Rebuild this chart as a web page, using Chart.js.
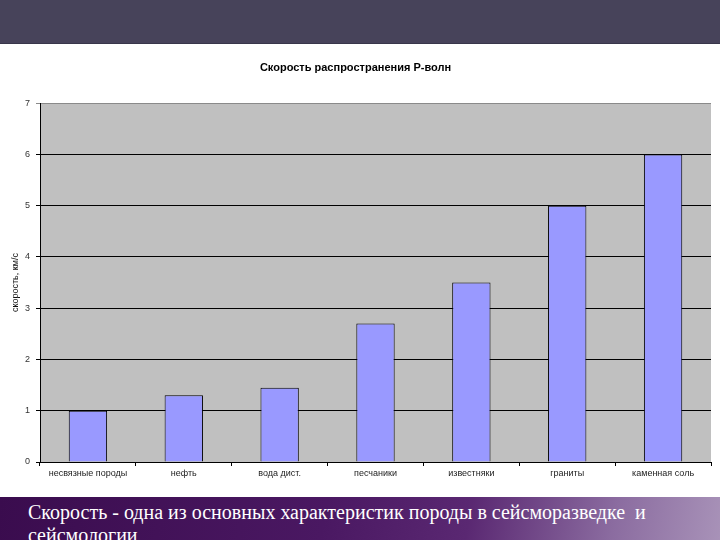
<!DOCTYPE html>
<html lang="ru">
<head>
  <meta charset="UTF-8">
  <title>Скорость распространения P-волн</title>
  <style>
    body {
      margin: 0;
      width: 720px;
      height: 540px;
      overflow: hidden;
      background: #ffffff;
      font-family: "Liberation Sans", Arial, sans-serif;
    }
    #topBand {
      height: 43px;
      background: #47435a;
      border-bottom: 1px solid #38364a;
    }
    #chartBox {
      position: absolute;
      top: 44px;
      left: 0;
      width: 720px;
      height: 453px;
    }
    #bottomBand {
      position: absolute;
      top: 497px;
      left: 0;
      width: 720px;
      height: 43px;
      overflow: hidden;
      background: linear-gradient(100deg, #3a0c4e 0%, #4a1862 45%, #5a2872 65%, #8b6ca0 85%, #a892b8 100%);
    }
    #caption {
      position: absolute;
      left: 28px;
      top: 4px;
      width: 680px;
      color: #ffffff;
      font-family: "Liberation Serif", "Times New Roman", serif;
      font-size: 20px;
      line-height: 23px;
    }
  </style>
</head>
<body>
  <div id="topBand"></div>
  <div id="chartBox">
    <canvas id="myChart" width="720" height="453"></canvas>
  </div>
  <div id="bottomBand">
    <div id="caption">Скорость - одна из основных характеристик породы в сейсморазведке&nbsp; и сейсмологии</div>
  </div>

  <script src="https://cdn.jsdelivr.net/npm/chart.js"></script>
  <script>
    // данные с картинки
    const rocks = ['несвязные породы', 'нефть', 'вода дист.', 'песчаники', 'известняки', 'граниты', 'каменная соль'];
    const speeds = [1.0, 1.3, 1.45, 2.7, 3.5, 5.0, 6.0];
    const yTicks = [0, 1, 2, 3, 4, 5, 6, 7];

    // серый фон области построения
    const plotBg = {
      id: 'plotBg',
      beforeDraw(chart) {
        const a = chart.chartArea;
        const ctx = chart.ctx;
        ctx.save();
        ctx.fillStyle = '#c0c0c0';
        ctx.fillRect(a.left, a.top, a.right - a.left, a.bottom - a.top);
        ctx.restore();
      }
    };

    const ctx = document.getElementById('myChart').getContext('2d');
    new Chart(ctx, {
      type: 'bar',
      data: {
        labels: rocks,
        datasets: [{
          data: speeds,
          backgroundColor: '#9999ff',
          borderColor: '#000000',
          borderWidth: 1,
          borderSkipped: 'bottom',
          barPercentage: 0.4,
          categoryPercentage: 1.0
        }]
      },
      options: {
        responsive: false,
        animation: false,
        layout: { padding: { left: 0, right: 9, top: 0, bottom: 0 } },
        plugins: {
          legend: { display: false },
          tooltip: { enabled: false },
          title: {
            display: true,
            text: 'Скорость распространения P-волн',
            color: '#000000',
            font: { family: 'Liberation Sans', size: 11, weight: 'bold' },
            padding: { top: 17, bottom: 29 }
          }
        },
        scales: {
          x: {
            offset: true,
            grid: {
              display: true,
              offset: true,
              drawOnChartArea: false,
              drawTicks: true,
              tickLength: 4,
              color: '#000000'
            },
            border: { display: true, color: '#000000' },
            ticks: {
              color: '#222222',
              font: { family: 'Liberation Sans', size: 9 },
              maxRotation: 0,
              autoSkip: false,
              padding: 2
            },
            afterFit(axis) { axis.height = 35; }
          },
          y: {
            min: 0,
            max: 7,
            afterBuildTicks(axis) {
              axis.ticks = yTicks.map(v => ({ value: v }));
            },
            grid: {
              color: c => (c.tick && c.tick.value === 7) ? '#8a8a8a' : '#000000',
              drawTicks: true,
              tickLength: 4
            },
            border: { display: true, color: '#000000' },
            ticks: {
              color: '#333333',
              font: { family: 'Liberation Sans', size: 9 },
              padding: 6
            },
            title: {
              display: true,
              text: 'скорость, км/с',
              color: '#111111',
              font: { family: 'Liberation Sans', size: 9 },
              padding: { top: 10, bottom: 0 }
            },
            afterFit(axis) { axis.width = 40; }
          }
        }
      },
      plugins: [plotBg]
    });
  </script>
</body>
</html>
